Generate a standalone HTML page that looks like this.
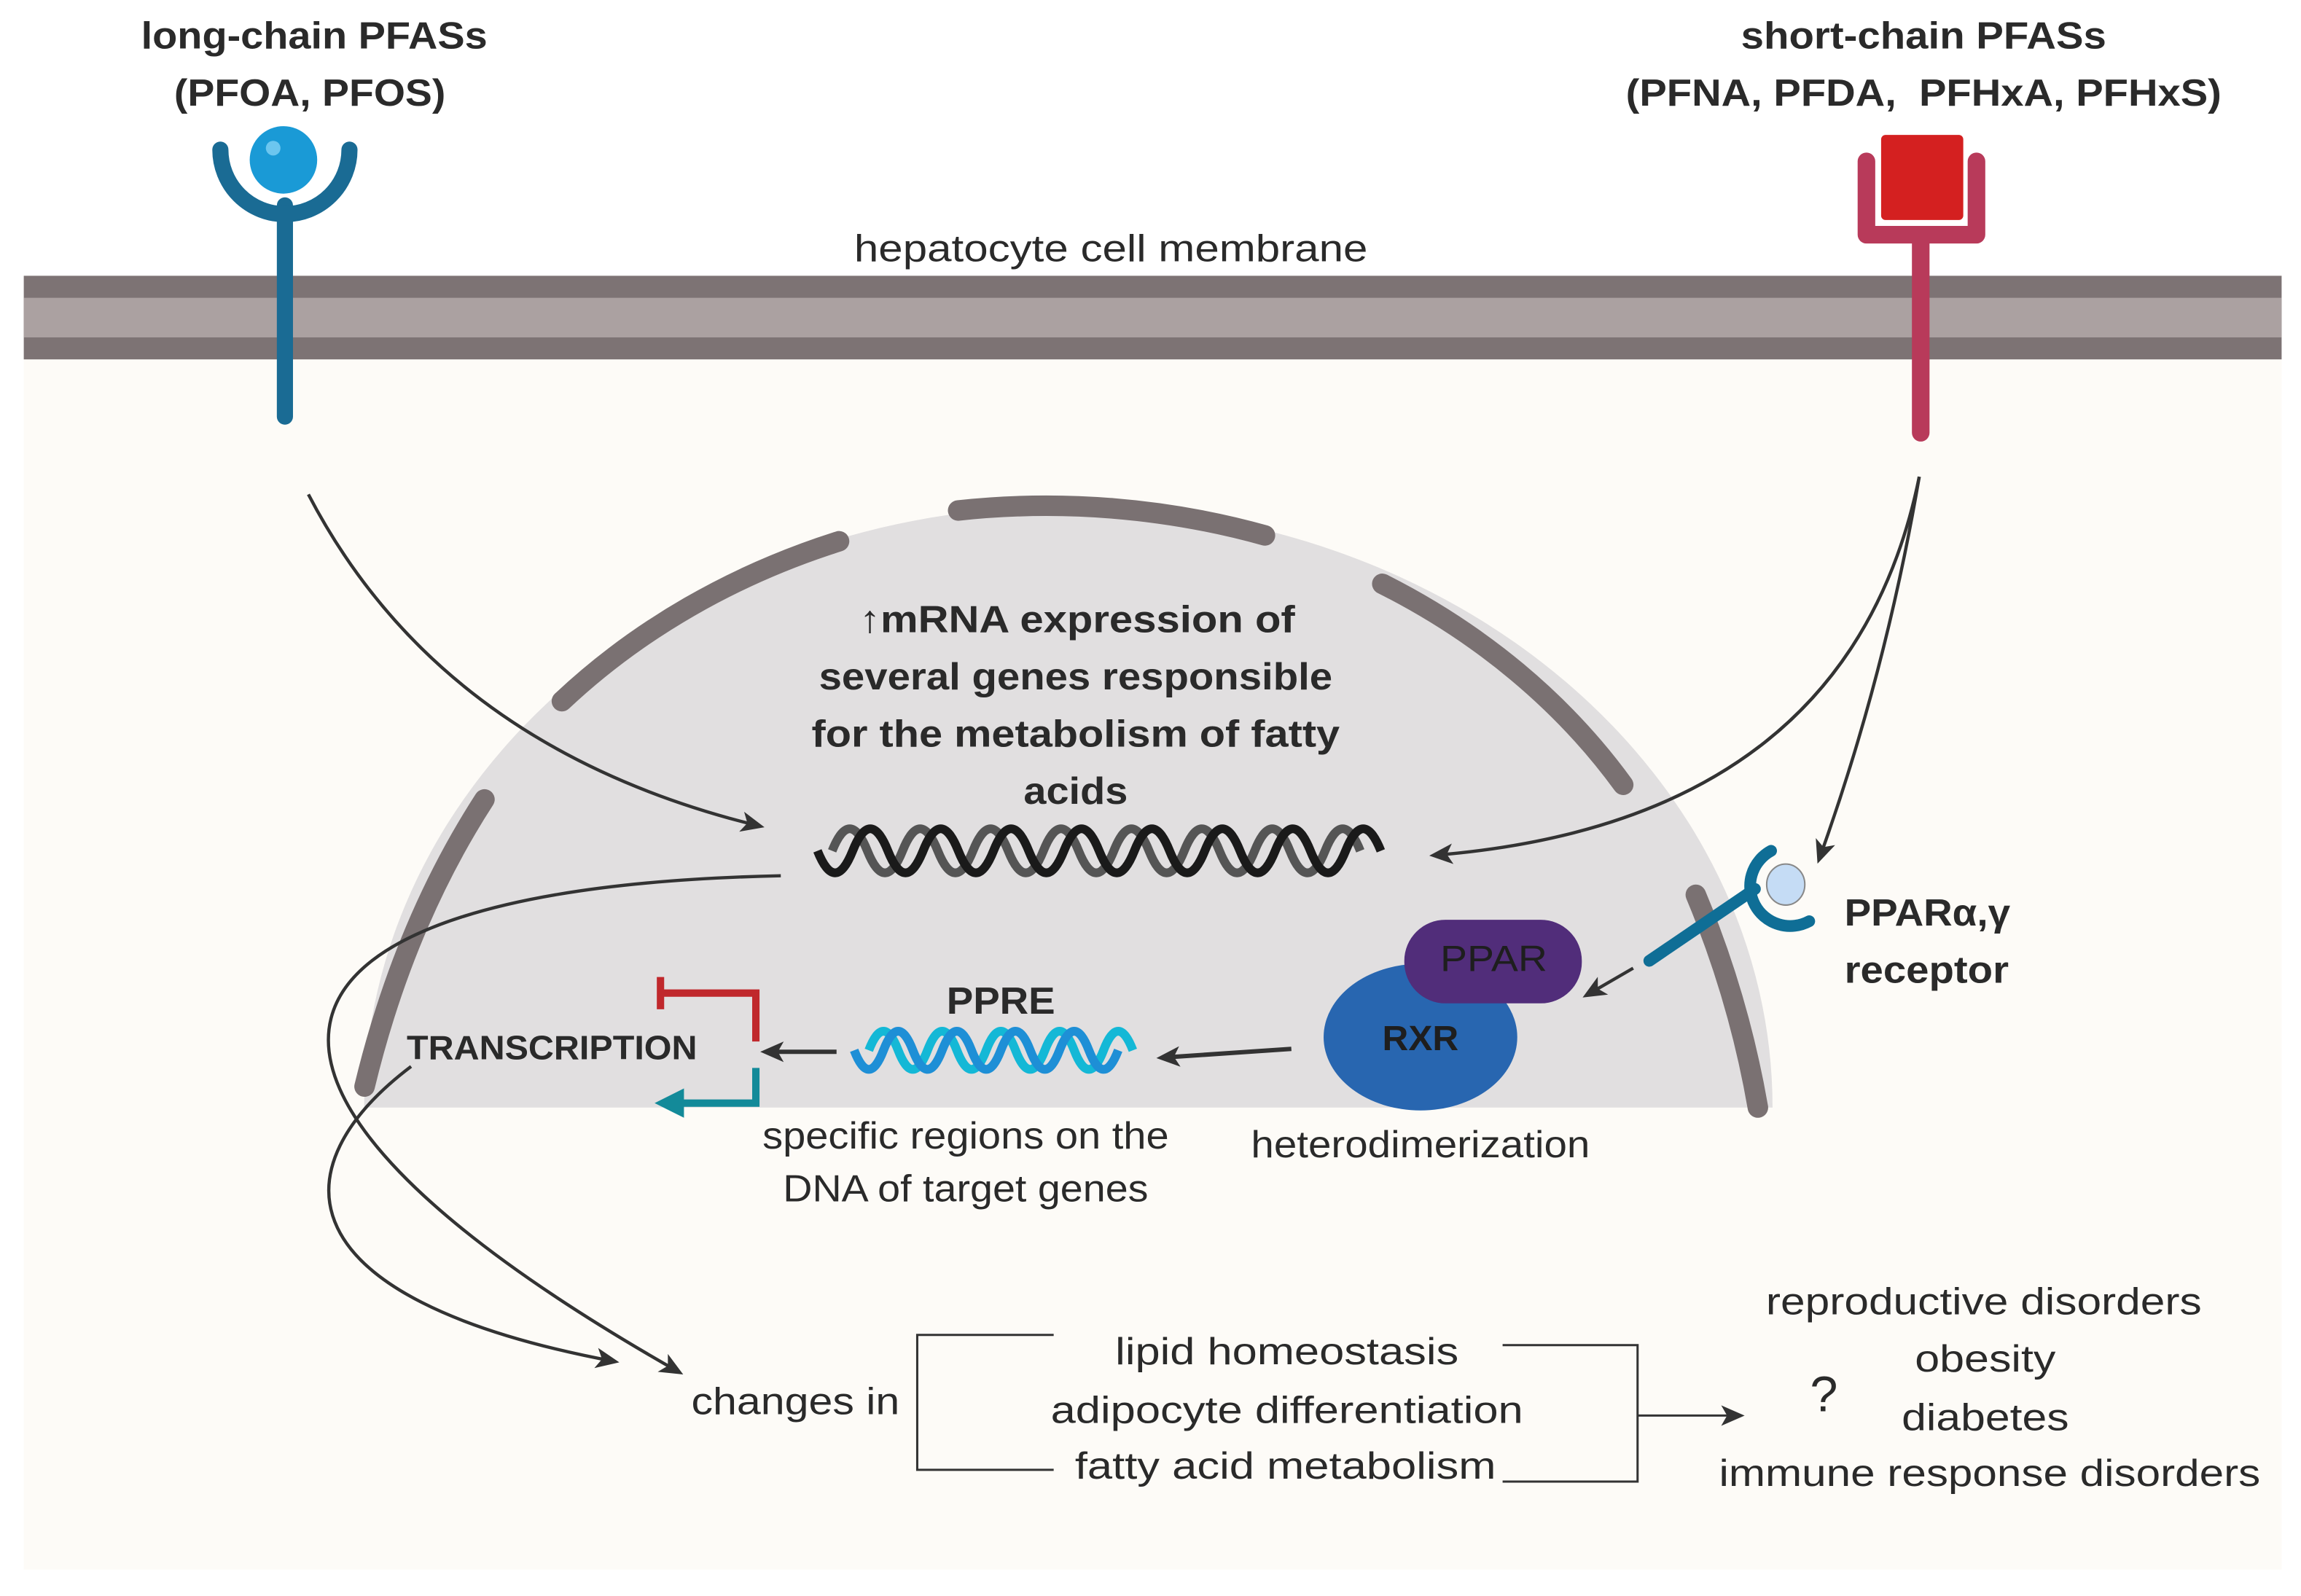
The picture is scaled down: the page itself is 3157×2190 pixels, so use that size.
<!DOCTYPE html>
<html><head><meta charset="utf-8"><style>
html,body{margin:0;padding:0;background:#fff}
svg{display:block}
text{font-family:"Liberation Sans",sans-serif;fill:#2a2a2a}
.b{font-weight:bold}
</style></head><body>
<svg width="3157" height="2190" viewBox="0 0 1568 1088" xmlns="http://www.w3.org/2000/svg">
<defs>
<marker id="ah2" markerWidth="16" markerHeight="16" refX="12" refY="8" orient="auto" markerUnits="userSpaceOnUse" viewBox="0 0 16 16">
<path d="M0,1 L16,8 L0,15 L4,8 Z" fill="#333"/></marker>
</defs>
<rect width="1568" height="1088" fill="#fff"/>
<rect x="16" y="188" width="1539" height="882" fill="#fdfbf7"/>
<rect x="16" y="188" width="1539" height="57" fill="#7d7374"/>
<rect x="16" y="203" width="1539" height="27" fill="#aba1a1"/>
<path d="M248,755 A480,410 0 0 1 1208,755 Z" fill="#e1dfe0"/>
<g fill="none" stroke="#7a7172" stroke-width="14" stroke-linecap="round">
<path d="M248.3,740.7 Q275,630 330,545"/>
<path d="M382.8,478 A480,410 0 0 1 571.7,369"/>
<path d="M652.9,348 A480,410 0 0 1 862,365"/>
<path d="M942,398 A480,410 0 0 1 1106.2,535"/>
<path d="M1155.7,610 Q1185,680 1198,755"/>
</g>
<line x1="194" y1="140" x2="194" y2="284" stroke="#1a6b94" stroke-width="11" stroke-linecap="round"/>
<path d="M150,102 A44,44 0 0 0 238,102" fill="none" stroke="#1a6b94" stroke-width="11" stroke-linecap="round"/>
<circle cx="193" cy="109" r="23" fill="#1a9ad6"/>
<circle cx="186" cy="101" r="5" fill="#6cc6ef"/>
<line x1="1309" y1="160" x2="1309" y2="295" stroke="#b83a5a" stroke-width="12" stroke-linecap="round"/>
<path d="M1272,110 L1272,160 L1347,160 L1347,110" fill="none" stroke="#b83a5a" stroke-width="12" stroke-linecap="round" stroke-linejoin="round"/>
<rect x="1282" y="92" width="56" height="58" rx="3" fill="#d42020"/>
<g text-anchor="middle" font-size="26">
<text class="b" x="214" y="33" textLength="236" lengthAdjust="spacingAndGlyphs">long-chain PFASs</text>
<text class="b" x="211" y="72" textLength="185" lengthAdjust="spacingAndGlyphs">(PFOA, PFOS)</text>
<text class="b" x="1311" y="33" textLength="249" lengthAdjust="spacingAndGlyphs">short-chain PFASs</text>
<text class="b" x="1311" y="72" textLength="406" lengthAdjust="spacingAndGlyphs" xml:space="preserve">(PFNA, PFDA,  PFHxA, PFHxS)</text>
<text x="757" y="178" textLength="350" lengthAdjust="spacingAndGlyphs">hepatocyte cell membrane</text>
<text class="b" x="734" y="431" textLength="297" lengthAdjust="spacingAndGlyphs">↑mRNA expression of</text>
<text class="b" x="733" y="470" textLength="350" lengthAdjust="spacingAndGlyphs">several genes responsible</text>
<text class="b" x="733" y="509" textLength="360" lengthAdjust="spacingAndGlyphs">for the metabolism of fatty</text>
<text class="b" x="733" y="548" textLength="71" lengthAdjust="spacingAndGlyphs">acids</text>
</g>
<path d="M567,580 q12,-30 24,0 t24,0 t24,0 t24,0 t24,0 t24,0 t24,0 t24,0 t24,0 t24,0 t24,0 t24,0 t24,0 t24,0 t24,0" fill="none" stroke="#555" stroke-width="6"/>
<path d="M557,580 q12,30 24,0 t24,0 t24,0 t24,0 t24,0 t24,0 t24,0 t24,0 t24,0 t24,0 t24,0 t24,0 t24,0 t24,0 t24,0 t24,0" fill="none" stroke="#1a1a1a" stroke-width="6"/>
<path d="M592,716 q10,-26 20,0 t20,0 t20,0 t20,0 t20,0 t20,0 t20,0 t20,0 t20,0" fill="none" stroke="#14b8d6" stroke-width="6"/>
<path d="M582,716 q10,26 20,0 t20,0 t20,0 t20,0 t20,0 t20,0 t20,0 t20,0 t20,0" fill="none" stroke="#1e8fd6" stroke-width="6"/>
<text class="b" x="682" y="691" font-size="26" text-anchor="middle" textLength="74" lengthAdjust="spacingAndGlyphs">PPRE</text>
<ellipse cx="968" cy="707" rx="66" ry="50" fill="#2866b0"/>
<rect x="957" y="627" width="121" height="57" rx="28" fill="#512d7a"/>
<text x="1018" y="662" font-size="25" text-anchor="middle" style="fill:#1e1e1e" textLength="73" lengthAdjust="spacingAndGlyphs">PPAR</text>
<text class="b" x="968" y="716" font-size="24" text-anchor="middle" style="fill:#1e1e1e" textLength="52" lengthAdjust="spacingAndGlyphs">RXR</text>
<line x1="1124" y1="655" x2="1196" y2="606" stroke="#0f6e96" stroke-width="8" stroke-linecap="round"/>
<path d="M1207,580 A26,26 0 0 0 1233,628" fill="none" stroke="#0f6e96" stroke-width="8" stroke-linecap="round"/>
<ellipse cx="1217" cy="603" rx="13" ry="14" fill="#c5dcf5" stroke="#888" stroke-width="1"/>
<text class="b" x="1257" y="631" font-size="26" textLength="113" lengthAdjust="spacingAndGlyphs">PPARα,γ</text>
<text class="b" x="1257" y="670" font-size="26" textLength="112" lengthAdjust="spacingAndGlyphs">receptor</text>
<path d="M450,666 L450,688 M450,677 L515,677 L515,710" fill="none" stroke="#c0282c" stroke-width="5"/>
<path d="M515,728 L515,752 L462,752" fill="none" stroke="#138a99" stroke-width="5"/>
<path d="M446,752 L466,742 L466,762 Z" fill="#138a99"/>
<text class="b" x="277" y="722" font-size="23" textLength="198" lengthAdjust="spacingAndGlyphs">TRANSCRIPTION</text>
<g fill="none" stroke="#333" stroke-width="2.2">
<path d="M210,337 Q300,510 517,563" marker-end="url(#ah2)"/>
<path d="M1308,325 Q1260,560 978,583" marker-end="url(#ah2)"/>
<path d="M1308,325 Q1285,460 1240,585" marker-end="url(#ah2)"/>
<path d="M1113,660 L1082,678" marker-end="url(#ah2)"/>
<path d="M880,715 L792,721" stroke-width="3" marker-end="url(#ah2)"/>
<path d="M570,717 L522,717" stroke-width="3" marker-end="url(#ah2)"/>
<path d="M532,597 C160,605 110,735 462,935" marker-end="url(#ah2)"/>
<path d="M280,727 C190,795 190,885 418,928" marker-end="url(#ah2)"/>
<path d="M718,910 L625,910 L625,1002 L718,1002" stroke-width="1.5"/>
<path d="M1024,917 L1116,917 L1116,1010 L1024,1010" stroke-width="1.5"/>
<path d="M1116,965 L1185,965" stroke-width="1.5" marker-end="url(#ah2)"/>
</g>
<g font-size="26" text-anchor="middle">
<text x="658" y="783" textLength="277" lengthAdjust="spacingAndGlyphs">specific regions on the</text>
<text x="658" y="819" textLength="249" lengthAdjust="spacingAndGlyphs">DNA of target genes</text>
<text x="968" y="789" textLength="231" lengthAdjust="spacingAndGlyphs">heterodimerization</text>
<text x="877" y="930" textLength="234" lengthAdjust="spacingAndGlyphs">lipid homeostasis</text>
<text x="877" y="970" textLength="322" lengthAdjust="spacingAndGlyphs">adipocyte differentiation</text>
<text x="876" y="1008" textLength="287" lengthAdjust="spacingAndGlyphs">fatty acid metabolism</text>
<text x="1352" y="896" textLength="297" lengthAdjust="spacingAndGlyphs">reproductive disorders</text>
<text x="1353" y="935" textLength="96" lengthAdjust="spacingAndGlyphs">obesity</text>
<text x="1353" y="975" textLength="114" lengthAdjust="spacingAndGlyphs">diabetes</text>
<text x="1356" y="1013" textLength="369" lengthAdjust="spacingAndGlyphs">immune response disorders</text>
<text x="542" y="964" textLength="142" lengthAdjust="spacingAndGlyphs">changes in</text>
</g>
<text x="1243" y="962" font-size="34" text-anchor="middle">?</text>
</svg>
</body></html>
